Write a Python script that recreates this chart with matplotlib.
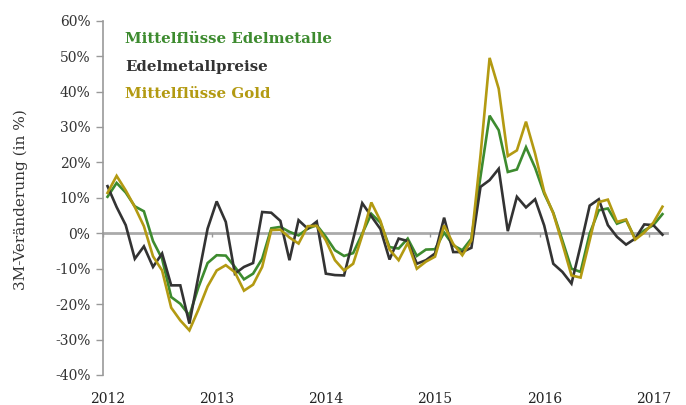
import numpy as np
import matplotlib
matplotlib.use("Agg")
import matplotlib.pyplot as plt
from matplotlib.transforms import blended_transform_factory

# monthly 3M changes in %, Jan 2012 .. Feb 2017
edelmetall_flows = [10.3, 14.2, 11.5, 7.6, 6.2, -2.2, -7.2, -18.0, -19.9, -23.2,
                    -15.2, -8.4, -6.2, -6.3, -9.5, -13.0, -11.4, -7.2, 1.4, 1.8,
                    0.4, -0.6, 1.3, 2.3, -1.0, -4.8, -6.4, -5.6, -0.1, 5.5,
                    3.0, -3.9, -4.3, -1.5, -6.4, -4.6, -4.5, 0.2, -3.4, -4.8,
                    -1.5, 16.0, 33.2, 29.1, 17.3, 18.0, 24.3, 18.5, 11.2, 5.8,
                    -2.0, -10.0, -10.9, -0.1, 6.5, 7.0, 2.7, 3.7, -1.5, 0.8,
                    2.3, 5.4]
preise = [13.3, 7.4, 2.3, -7.2, -3.7, -9.5, -5.7, -14.7, -14.7, -25.5,
          -12.0, 1.3, 9.0, 3.2, -11.4, -9.5, -8.4, 6.0, 5.8, 3.5,
          -7.6, 3.7, 1.3, 3.3, -11.4, -11.8, -11.9, -1.7, 8.5, 4.8,
          1.2, -7.4, -1.5, -2.2, -8.6, -7.6, -5.7, 4.4, -5.3, -5.3,
          -4.1, 13.1, 15.0, 18.2, 0.6, 10.3, 7.3, 9.6, 2.2, -8.6,
          -10.9, -14.2, -3.5, 7.8, 9.6, 2.3, -1.0, -3.2, -1.5, 2.5,
          2.3, -0.4]
gold_flows = [11.4, 16.2, 12.1, 7.4, 2.0, -6.5, -10.5, -21.0, -24.6, -27.4,
              -21.5, -15.0, -10.5, -9.0, -11.0, -16.2, -14.5, -9.5, 0.9, 1.0,
              -1.2, -2.9, 2.0, 2.1, -2.0, -7.6, -10.5, -8.6, -0.6, 8.7,
              3.5, -4.6, -7.6, -2.7, -10.0, -8.0, -6.6, 2.2, -3.0, -6.2,
              -2.0, 22.0, 49.5, 40.8, 21.8, 23.4, 31.5, 22.5, 11.7, 5.6,
              -2.9, -11.9, -12.5, -2.0, 8.8, 9.5, 3.2, 3.9, -1.8, 0.2,
              3.0, 7.5]

years = ["2012", "2013", "2014", "2015", "2016", "2017"]
y_ticks = list(range(-40, 61, 10))
labels = ["Mittelflüsse Edelmetalle", "Edelmetallpreise", "Mittelflüsse Gold"]
colors = ["#3d8b2f", "#333333", "#b39a12"]

plt.rcParams["font.family"] = ["DejaVu Serif"]

fig = plt.figure(figsize=(6.86, 4.05), dpi=100)
ax = fig.add_axes([0.1501, 0.0741, 0.8222, 0.8748])

months = np.arange(len(preise)) + 0.5
for series, lab, col in zip([edelmetall_flows, preise, gold_flows], labels, colors):
    ax.plot(months, series, color=col, lw=1.9, label=lab, solid_joinstyle="miter")

ax.set_xlim(0, 62)
ax.set_ylim(-40, 60)

# y axis: gray line with outward ticks
ax.set_yticks(y_ticks)
ax.set_yticklabels([f"{v}%" for v in y_ticks], fontsize=10, color="#333333")
ax.tick_params(axis="y", length=5, width=1, color="#999999", pad=4)
ax.spines["left"].set_color("#999999")
ax.spines["left"].set_linewidth(1.2)
for s in ["top", "right"]:
    ax.spines[s].set_visible(False)

# x axis sits on the zero line
ax.spines["bottom"].set_position(("data", 0))
ax.spines["bottom"].set_color("#aaaaaa")
ax.spines["bottom"].set_linewidth(2)
ax.spines["bottom"].set_zorder(0)
year_pos = [12 * k for k in range(len(years))]
ax.set_xticks(year_pos)
ax.tick_params(axis="x", direction="out", length=3, width=1, color="#999999", labelbottom=False)
trans = blended_transform_factory(ax.transData, ax.transAxes)
for pos, yr in zip(year_pos, years):
    ax.text(pos + 0.5, -0.068, yr, transform=trans, ha="center", va="center",
            fontsize=10, color="#222222")

ax.set_ylabel("3M-Veränderung (in %)", fontsize=11, color="#333333")
ax.yaxis.set_label_coords(-0.133, 0.494)

leg = ax.legend(loc="upper left", bbox_to_anchor=(0.039, 0.968), frameon=False,
                handlelength=0, handletextpad=0, borderpad=0, borderaxespad=0,
                labelspacing=0.9, labelcolor="linecolor",
                prop={"weight": "bold", "size": 10.8})
for h in leg.legend_handles:
    h.set_visible(False)

fig.savefig("out.png", dpi=100)
